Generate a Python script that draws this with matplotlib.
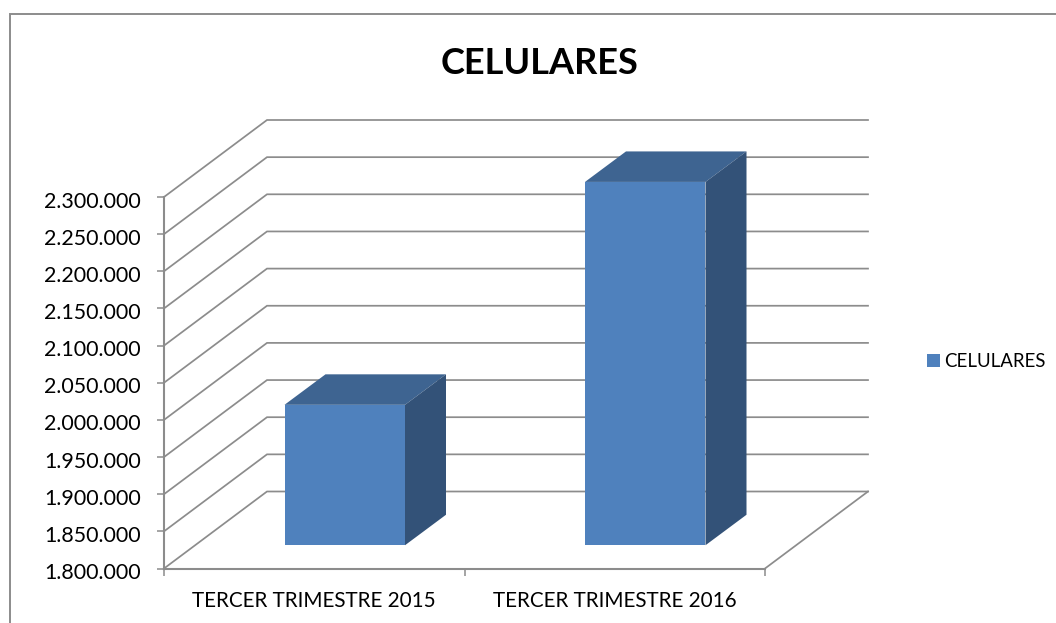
import matplotlib
matplotlib.use("Agg")
import matplotlib.pyplot as plt
from matplotlib.lines import Line2D
from matplotlib.patches import Patch
from matplotlib.transforms import ScaledTranslation
import numpy as np

# Data
categories = ["TERCER TRIMESTRE 2015", "TERCER TRIMESTRE 2016"]
series_name = "CELULARES"
values = [1989000, 2289000]
y_ticks = [1800000, 1850000, 1900000, 1950000, 2000000, 2050000,
           2100000, 2150000, 2200000, 2250000, 2300000]
y_labels = ["1.800.000", "1.850.000", "1.900.000", "1.950.000", "2.000.000", "2.050.000",
            "2.100.000", "2.150.000", "2.200.000", "2.250.000", "2.300.000"]

W, H = 1056, 623
plt.rcParams["font.family"] = "Lato"
fig = plt.figure(figsize=(W / 100, H / 100), dpi=100, facecolor="white")

L, R, T, B = 164.0, 765.0, 197.0, 568.5
ax = fig.add_axes([L / W, 1 - B / H, (R - L) / W, (B - T) / H])
ax.set_xlim(-0.5, 1.5)
ax.set_ylim(y_ticks[0], y_ticks[-1])

px_x = 2 / (R - L)                             # category units per pixel
px_y = (y_ticks[-1] - y_ticks[0]) / (B - T)    # value units per pixel

GRID = "#8c8c8c"
LW = 1.25
xmin, xmax = -0.5, 1.5
dx, dy = 103 * px_x, 77 * px_y       # depth of the chart box
bx, by = 41 * px_x, 30.5 * px_y      # depth of the bars
sx, sy = 30.5 * px_x, (dy - by) / 2  # gap in front of the bars
bar_w = 120.5 * px_x

# Walls and floor
for v in y_ticks:
    ax.plot([xmin, xmin + dx, xmax + dx], [v, v + dy, v + dy],
            color=GRID, lw=LW, clip_on=False, zorder=1, solid_joinstyle="miter")
ax.plot([xmax, xmax + dx], [y_ticks[0], y_ticks[0] + dy], color=GRID, lw=LW, clip_on=False, zorder=1)

# Bars (the front face sits on the floor, shifted into the depth of the box)
FRONT, TOP, SIDE = "#4F81BD", "#3E6491", "#335278"
xs = np.arange(len(categories))
base = y_ticks[0] + sy
for x, v in zip(xs, values):
    x0 = x - bar_w / 2 + sx
    x1 = x0 + bar_w
    t = v + sy
    ax.fill([x0, x1, x1 + bx, x0 + bx], [t, t, t + by, t + by], color=TOP, lw=0, clip_on=False, zorder=3)
    ax.fill([x1, x1 + bx, x1 + bx, x1], [base, base + by, t + by, t], color=SIDE, lw=0, clip_on=False, zorder=3)
ax.bar(xs + sx, [v - y_ticks[0] for v in values], bottom=base, width=bar_w, color=FRONT, lw=0,
       zorder=4, clip_on=False, label=series_name)

# Axes
for s in ("top", "right"):
    ax.spines[s].set_visible(False)
for s in ("left", "bottom"):
    ax.spines[s].set_color(GRID)
    ax.spines[s].set_linewidth(1.5)
    ax.spines[s].set_zorder(2)
ax.patch.set_visible(False)
ax.set_yticks(y_ticks, y_labels)
ax.set_xticks([-0.5, 0.5, 1.5], minor=False, labels=["", "", ""])
ax.set_xticks(xs, categories, minor=True)
ax.tick_params(axis="y", length=5, width=1.1, color=GRID, pad=11.5, labelsize=15.4, labelcolor="black")
ax.tick_params(axis="x", which="major", length=5, width=1.1, color=GRID)
ax.tick_params(axis="x", which="minor", length=0, pad=16.4, labelsize=14.85, labelcolor="black")
shift = ScaledTranslation(0, -2.6 / 100, fig.dpi_scale_trans)
for lab in ax.get_yticklabels():
    lab.set_transform(lab.get_transform() + shift)

# Title
fig.text(540 / W, 1 - 63 / H, series_name, ha="center", va="center", fontsize=26, fontweight="bold", color="black")

# Legend
handle = Patch(facecolor=FRONT, edgecolor="none")
fig.legend([handle], [series_name], loc="center left", bbox_to_anchor=(927 / W, 1 - 361.5 / H),
           frameon=False, fontsize=13.45, handlelength=0.72, handleheight=0.72, handletextpad=0.19,
           borderpad=0, borderaxespad=0)

# Chart frame (left and top edges)
fig.add_artist(Line2D([10 / W, 10 / W, 1], [0, 1 - 14 / H, 1 - 14 / H], transform=fig.transFigure,
                      color="#8c8c8c", lw=1.4, solid_joinstyle="miter"))

fig.savefig("out.png", dpi=100, facecolor="white")
